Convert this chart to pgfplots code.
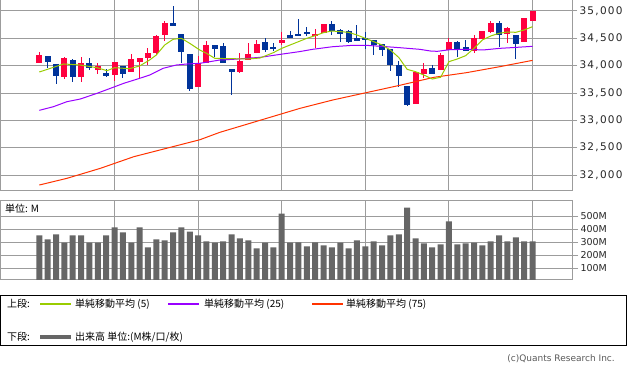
\documentclass[border=0pt]{standalone}
\usepackage{fontspec}
\setmainfont{DejaVu Sans}
\newfontfamily\jp{Noto Sans CJK JP}
\newfontfamily\tickfont[LetterSpace=12]{DejaVu Sans}
\usepackage{pgfplots}
\usepackage{pgfplotstable}
\pgfplotsset{compat=1.18}
\definecolor{candred}{HTML}{FF003F}
\definecolor{candblue}{HTML}{00339A}
\definecolor{mafive}{HTML}{99CC00}
\definecolor{matwentyfive}{HTML}{9900FF}
\definecolor{maseventyfive}{HTML}{FF3300}
\definecolor{volgray}{HTML}{666666}
\definecolor{gridgray}{HTML}{9C9C9C}

\pgfplotstableread{
d o h l c
1 34055 34256 34055 34195
4 33793 34158 33756 34140
6 33799 34158 33701 34049
8 33927 34049 33854 33994
10 33835 34067 33719 34067
12 33884 34213 33884 34122
13 34067 34140 33756 34140
14 34140 34323 34012 34232
15 34238 34561 34195 34543
16 34567 34817 34457 34780
20 33610 34177 33610 34049
21 34049 34451 34049 34378
25 33884 34232 33860 34085
26 34104 34414 34104 34213
27 34232 34469 34232 34396
30 34408 34616 34378 34469
34 34543 34671 34323 34579
35 34597 34762 34597 34762
46 33299 33908 33299 33890
47 33848 34049 33780 33939
49 33921 34232 33921 34195
50 34286 34506 34286 34433
53 34268 34561 34232 34506
54 34494 34634 34494 34634
55 34616 34817 34597 34780
57 34579 34707 34414 34689
59 34433 34872 34433 34872
60 34823 35000 34823 35000
}\upc

\pgfplotstableread{
d o h l c
2 34177 34177 33963 34067
3 34030 34030 33671 33811
5 34104 34122 33701 33799
7 34049 34140 33927 33963
9 33860 33939 33793 33811
11 33994 33994 33774 33848
17 34780 35091 34725 34725
18 34579 34579 34049 34250
19 34213 34213 33543 33573
22 34378 34378 34158 34305
23 34360 34408 34043 34055
24 33939 33939 33470 33884
28 34433 34506 34250 34293
29 34341 34414 34268 34305
31 34561 34634 34512 34512
32 34582 34853 34543 34555
33 34616 34707 34543 34579
36 34762 34817 34561 34634
37 34652 34671 34433 34585
38 34634 34652 34414 34433
39 34506 34744 34457 34457
40 34506 34616 34305 34476
41 34469 34469 34195 34378
42 34396 34396 34177 34286
43 34305 34305 33902 34012
44 34012 34085 33616 33811
45 33628 33628 33262 33280
48 33957 34012 33848 33848
51 34433 34451 34158 34286
52 34341 34469 34268 34268
56 34780 34817 34341 34567
58 34567 34567 34122 34402
}\downc

\pgfplotstableread{
d v
1 352
2 321
3 359
4 296
5 352
6 352
7 296
8 296
9 352
10 413
11 375
12 296
13 413
14 260
15 321
16 313
17 375
18 413
19 382
20 352
21 306
22 296
23 306
24 359
25 329
26 313
27 252
28 296
29 260
30 520
31 296
32 298
33 268
34 298
35 275
36 260
37 296
38 252
39 313
40 268
41 306
42 275
43 352
44 359
45 566
46 329
47 290
48 260
49 283
50 459
51 283
52 290
53 296
54 275
55 306
56 352
57 306
58 337
59 306
60 306
}\vol

\begin{document}
\begin{tikzpicture}[x=1pt,y=1pt]
\useasboundingbox (0,0) rectangle (633,-374);

% ---------------- price panel ----------------
\begin{axis}[
  at={(0pt,0pt)}, anchor=north west,
  scale only axis, width=572pt, height=190pt,
  xmin=-3.7, xmax=64.72, ymin=31726, ymax=35201,
  xtick={10,20,30,40,50,60}, xticklabels={},
  xmajorticks=false,
  ytick={32000,32500,...,35000},
  scaled y ticks=false,
  xmajorgrids, ymajorgrids,
  major grid style={draw=gridgray, line width=1pt},
  axis line style={draw=gridgray, line width=1pt},
  ytick pos=right, yticklabel pos=right,
  tick align=outside, major tick length=5pt,
  tick style={draw=gridgray, line width=1pt},
  yticklabel style={font=\tickfont\fontsize{10.5}{12}\selectfont, text=black!85, xshift=-1pt,
     /pgf/number format/.cd, fixed, precision=0, 1000 sep={,}, assume math mode=true},
]
% wicks
\addplot[draw=none, forget plot, error bars/.cd, y dir=both, y explicit, error mark=none,
  error bar style={draw=candred, line width=1pt}]
  table[x=d, y expr={(\thisrow{h}+\thisrow{l})/2}, y error expr={(\thisrow{h}-\thisrow{l})/2}] {\upc};
\addplot[draw=none, forget plot, error bars/.cd, y dir=both, y explicit, error mark=none,
  error bar style={draw=candblue, line width=1pt}]
  table[x=d, y expr={(\thisrow{h}+\thisrow{l})/2}, y error expr={(\thisrow{h}-\thisrow{l})/2}] {\downc};
% bodies
\addplot[draw=none, forget plot, error bars/.cd, y dir=both, y explicit, error mark=none,
  error bar style={draw=candred, line width=6pt}]
  table[x=d, y expr={(\thisrow{o}+\thisrow{c})/2}, y error expr={abs(\thisrow{c}-\thisrow{o})/2}] {\upc};
\addplot[draw=none, forget plot, error bars/.cd, y dir=both, y explicit, error mark=none,
  error bar style={draw=candblue, line width=6pt}]
  table[x=d, y expr={(\thisrow{o}+\thisrow{c})/2}, y error expr={abs(\thisrow{c}-\thisrow{o})/2}] {\downc};
% moving averages
\addplot[draw=maseventyfive, line width=1pt, mark=none] coordinates {
(1,31817) (4.3,31939) (8.3,32122) (12.3,32335) (16.2,32488) (20.2,32645) (22.6,32781)
(24.2,32854) (28.2,33037) (32.2,33220) (36.1,33372) (40.1,33506) (44.1,33640)
(46.5,33726) (48.2,33787) (52.1,33872) (56.1,33982) (60,34097)};
\addplot[draw=matwentyfive, line width=1pt, mark=none] coordinates {
(1,33183) (2.7,33250) (4.3,33341) (5.9,33390) (7.9,33494) (9.5,33585) (11.1,33677)
(13,33768) (14.2,33829) (15.8,33951) (17.4,34012) (18.6,34030) (20.2,34043)
(21.4,34073) (22.6,34104) (24.2,34116) (27.4,34152) (30.1,34213) (32.1,34256)
(33.7,34299) (36.1,34347) (38.5,34372) (40.1,34372) (42.5,34347) (44.1,34329)
(46.5,34299) (47.8,34268) (48.6,34262) (50.1,34292) (52.1,34299) (54.1,34287)
(56.1,34317) (58.1,34335) (60,34354)};
\addplot[draw=mafive, line width=1pt, mark=none] coordinates {
(1,33884) (3.9,34031) (5.9,34012) (7.9,33963) (9.1,33908) (10,33963) (11.8,33945)
(13,33994) (14.2,34104) (15,34195) (16,34378) (17,34482) (18,34500) (19,34408)
(20.2,34286) (21,34226) (22,34134) (24,34128) (26,34122) (27.4,34140) (29,34238)
(30,34317) (32,34439) (33,34500) (34,34549) (35,34604) (36,34634) (38,34610)
(39,34561) (40,34500) (41,34439) (42,34378) (43,34286) (44,34150) (45,33933)
(46,33890) (47,33829) (48,33756) (49,33787) (50,34073) (51,34122) (52,34183)
(53,34317) (54,34470) (55,34543) (56,34592) (57,34616) (58,34610) (59,34653) (60,34713)};
\end{axis}

% ---------------- volume panel ----------------
\begin{axis}[
  at={(0pt,-201pt)}, anchor=north west,
  scale only axis, width=572pt, height=79pt,
  xmin=-3.7, xmax=64.72, ymin=10, ymax=616,
  xtick={10,20,30,40,50,60},
  xticklabels={2021/4/29,2021/5/13,2021/5/27,2021/6/11,2021/6/25,2021/7/12},
  xmajorticks=false,
  ytick={100,200,300,400,500},
  yticklabels={100M,200M,300M,400M,500M},
  xmajorgrids, ymajorgrids,
  major grid style={draw=gridgray, line width=1pt},
  axis line style={draw=gridgray, line width=1pt},
  ytick pos=right, yticklabel pos=right,
  tick align=outside, major tick length=6pt,
  tick style={draw=gridgray, line width=1pt},
  yticklabel style={font=\fontsize{9.5}{11}\selectfont, text=black!85, xshift=-1pt},
  xticklabel style={font=\fontsize{10.5}{12}\selectfont, text=black!85, yshift=1pt},
]
\addplot[ybar, bar width=6pt, fill=volgray, draw=none] table[x=d, y=v] {\vol};
\end{axis}

\node[anchor=west, inner sep=0, font=\jp\fontsize{10}{12}\selectfont] at (5,-209) {単位: M};

% ---------------- legend ----------------
\draw[black, line width=1pt] (0.5,-295.5) rectangle (626.5,-346);
\draw[draw=mafive, line width=1.2pt] (40,-304) -- (71,-304);
\draw[draw=matwentyfive, line width=1.2pt] (168,-304) -- (199,-304);
\draw[draw=maseventyfive, line width=1.2pt] (312,-304) -- (343,-304);
\draw[draw=volgray, line width=3.5pt] (40,-337) -- (71,-337);
\begin{scope}[every node/.style={anchor=west, inner sep=0, font=\jp\fontsize{10}{12}\selectfont}]
\node at (7,-304) {上段:};
\node at (75,-304) {単純移動平均 (5)};
\node at (204,-304) {単純移動平均 (25)};
\node at (346,-304) {単純移動平均 (75)};
\node at (7,-337) {下段:};
\node at (75,-337) {出来高 単位:(M株/口/枚)};
\end{scope}
\node[anchor=east, inner sep=0, font=\fontsize{9}{11}\selectfont, text=black!65] at (615,-359) {(c)Quants Research Inc.};
\end{tikzpicture}
\end{document}
